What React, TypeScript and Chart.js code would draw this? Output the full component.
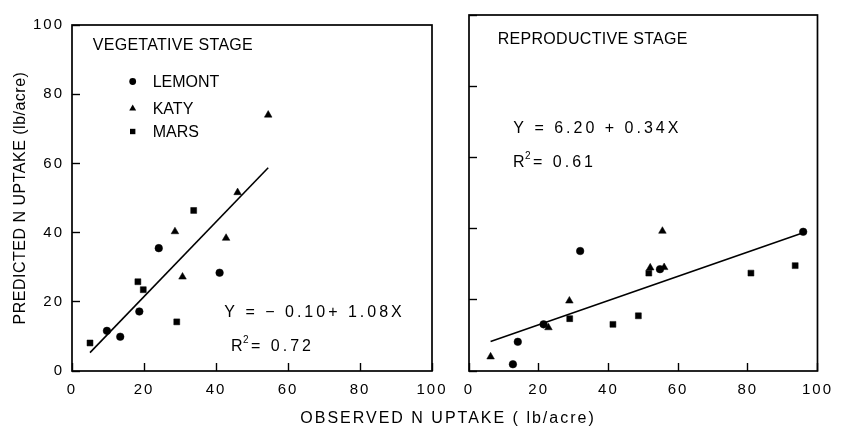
import { useEffect, useRef } from "react";
import { Chart, registerables } from "chart.js";

Chart.register(...registerables);

const FONT = "'Liberation Sans', Arial, Helvetica, sans-serif";
const INK = "#000000";

const TICK_VALUES = [0, 20, 40, 60, 80, 100];

const SERIES_NAMES = ["LEMONT", "KATY", "MARS"];
const SERIES_MARKERS = ["circle", "triangle", "rect"];
const MARKER_RADIUS: Record<string, number> = { circle: 3.8, triangle: 4.4, rect: 4.2 };

// Vegetative stage: observed (x) vs predicted (y) N uptake, lb/acre
const vegLemontX = [9.7, 13.4, 18.7, 24.1, 41.0];
const vegLemontY = [11.6, 9.9, 17.2, 35.5, 28.4];
const vegKatyX = [28.6, 30.7, 42.8, 46.0, 54.5];
const vegKatyY = [40.3, 27.2, 38.4, 51.6, 74.0];
const vegMarsX = [5.0, 18.3, 19.8, 29.1, 33.8];
const vegMarsY = [8.1, 25.8, 23.5, 14.2, 46.4];

// Reproductive stage
const repLemontX = [12.6, 14.0, 21.4, 31.9, 54.8, 95.9];
const repLemontY = [1.9, 8.2, 13.1, 33.7, 28.6, 39.1];
const repKatyX = [6.2, 22.8, 28.8, 52.0, 56.0, 55.5];
const repKatyY = [4.0, 12.2, 19.7, 29.0, 29.1, 39.3];
const repMarsX = [28.9, 41.3, 48.6, 51.6, 80.9, 93.6];
const repMarsY = [14.7, 13.1, 15.5, 27.5, 27.5, 29.6];

// Regression fits
const VEG_INTERCEPT = -0.1;
const VEG_SLOPE = 1.08;
const VEG_R2 = 0.72;
const REP_INTERCEPT = 6.2;
const REP_SLOPE = 0.34;
const REP_R2 = 0.61;

const pairs = (xs: number[], ys: number[]) => xs.map((x, i) => ({ x, y: ys[i] }));

function fitLine(xsList: number[][], a: number, b: number) {
  const all = xsList.flat();
  const lo = Math.min(...all);
  const hi = Math.max(...all);
  return [
    { x: lo, y: a + b * lo },
    { x: hi, y: a + b * hi },
  ];
}

function equationText(a: number, b: number) {
  return a < 0
    ? `Y = \u2212 ${Math.abs(a).toFixed(2)}+ ${b.toFixed(2)}X`
    : `Y = ${a.toFixed(2)} + ${b.toFixed(2)}X`;
}

function text(
  ctx: CanvasRenderingContext2D,
  s: string,
  x: number,
  y: number,
  size: number,
  spacing: number,
  align: CanvasTextAlign = "left"
) {
  ctx.save();
  ctx.font = `${size}px ${FONT}`;
  (ctx as any).letterSpacing = `${spacing}px`;
  ctx.fillStyle = INK;
  ctx.textAlign = align;
  ctx.textBaseline = "alphabetic";
  ctx.fillText(s, x, y);
  ctx.restore();
}

function drawMarker(ctx: CanvasRenderingContext2D, style: string, x: number, y: number, r: number) {
  ctx.save();
  ctx.fillStyle = INK;
  ctx.beginPath();
  if (style === "circle") {
    ctx.arc(x, y, r, 0, Math.PI * 2);
  } else if (style === "triangle") {
    ctx.moveTo(x, y - r);
    ctx.lineTo(x + r * 0.866, y + r / 2);
    ctx.lineTo(x - r * 0.866, y + r / 2);
    ctx.closePath();
  } else {
    const s = r * Math.SQRT1_2;
    ctx.rect(x - s, y - s, 2 * s, 2 * s);
  }
  ctx.fill();
  ctx.restore();
}

function drawRSquared(ctx: CanvasRenderingContext2D, r2: number, x: number, y: number) {
  text(ctx, "R", x, y, 16, 0);
  text(ctx, "2", x + 12, y - 7.5, 10, 0);
  text(ctx, `= ${r2.toFixed(2)}`, x + 20, y, 16, 3);
}

function axisOptions(horizontal: boolean, showLabels: boolean, size: number) {
  return {
    type: "linear",
    min: 0,
    max: 100,
    afterBuildTicks: (scale: any) => {
      scale.ticks = TICK_VALUES.map((value) => ({ value }));
    },
    ticks: {
      display: showLabels,
      autoSkip: false,
      maxRotation: 0,
      minRotation: 0,
      padding: horizontal ? 18 : 16,
      color: INK,
      font: { family: FONT, size: 15 },
    },
    grid: {
      display: true,
      drawOnChartArea: false,
      drawTicks: true,
      tickLength: -8,
      tickColor: INK,
      tickWidth: 1.4,
      color: INK,
    },
    border: { display: false },
    afterFit: (scale: any) => {
      if (horizontal) scale.height = size;
      else scale.width = size;
    },
  };
}

const framePlugin = {
  id: "frame",
  beforeDraw(chart: any) {
    chart.ctx.letterSpacing = "2px";
  },
  afterDraw(chart: any) {
    const { ctx, chartArea } = chart;
    ctx.save();
    ctx.strokeStyle = INK;
    ctx.lineWidth = 1.7;
    ctx.strokeRect(chartArea.left, chartArea.top, chartArea.right - chartArea.left, chartArea.bottom - chartArea.top);
    ctx.restore();
  },
};

type PanelSpec = {
  padLeft: number;
  padRight: number;
  yAxisWidth: number;
  showYLabels: boolean;
  series: { x: number[]; y: number[] }[];
  intercept: number;
  slope: number;
  notes: (ctx: CanvasRenderingContext2D, chart: any) => void;
};

function makeChart(canvas: HTMLCanvasElement, spec: PanelSpec) {
  const datasets: any[] = spec.series.map((s, i) => ({
    label: SERIES_NAMES[i],
    data: pairs(s.x, s.y),
    pointStyle: SERIES_MARKERS[i],
    pointRadius: MARKER_RADIUS[SERIES_MARKERS[i]],
    backgroundColor: INK,
    borderColor: INK,
    borderWidth: 0.5,
  }));
  datasets.push({
    label: "fit",
    data: fitLine(
      spec.series.map((s) => s.x),
      spec.intercept,
      spec.slope
    ),
    showLine: true,
    pointRadius: 0,
    borderColor: INK,
    borderWidth: 1.6,
    fill: false,
  });

  return new Chart(canvas, {
    type: "scatter",
    data: { datasets },
    options: {
      responsive: false,
      animation: false,
      events: [],
      layout: { padding: { left: spec.padLeft, right: spec.padRight, top: 15, bottom: 0 } },
      plugins: {
        legend: { display: false },
        tooltip: { enabled: false },
        title: { display: false },
      },
      scales: {
        x: axisOptions(true, true, 68) as any,
        y: axisOptions(false, spec.showYLabels, spec.yAxisWidth) as any,
      },
    },
    plugins: [
      framePlugin,
      {
        id: "notes",
        afterDraw(chart: any) {
          spec.notes(chart.ctx, chart);
        },
      },
    ],
  });
}

export default function App() {
  const leftRef = useRef<HTMLCanvasElement>(null);
  const rightRef = useRef<HTMLCanvasElement>(null);

  useEffect(() => {
    if (!leftRef.current || !rightRef.current) return;

    const left = makeChart(leftRef.current, {
      padLeft: 0,
      padRight: 416,
      yAxisWidth: 72,
      showYLabels: true,
      series: [
        { x: vegLemontX, y: vegLemontY },
        { x: vegKatyX, y: vegKatyY },
        { x: vegMarsX, y: vegMarsY },
      ],
      intercept: VEG_INTERCEPT,
      slope: VEG_SLOPE,
      notes: (ctx, chart) => {
        const { left: L, top: T, bottom: B } = chart.chartArea;
        text(ctx, "VEGETATIVE STAGE", L + 20.7, T + 25, 16, 0.3);
        const rows = [62, 89, 112];
        SERIES_NAMES.forEach((name, i) => {
          drawMarker(ctx, SERIES_MARKERS[i], L + 60.7, T + rows[i] - 5.5, MARKER_RADIUS[SERIES_MARKERS[i]] - 0.4);
          text(ctx, name, L + 80.7, T + rows[i], 16, 0);
        });
        text(ctx, equationText(VEG_INTERCEPT, VEG_SLOPE), L + 152.3, T + 291.7, 16, 3);
        drawRSquared(ctx, VEG_R2, L + 159, T + 325.7);

        // shared axis titles
        ctx.save();
        ctx.translate(19, (T + B) / 2);
        ctx.rotate(-Math.PI / 2);
        text(ctx, "PREDICTED N UPTAKE (lb/acre)", 0, 6, 16, 0.5, "center");
        ctx.restore();
        text(ctx, "OBSERVED N UPTAKE ( lb/acre)", 448, 423, 16, 2, "center");
      },
    });

    const right = makeChart(rightRef.current, {
      padLeft: 440,
      padRight: 23,
      yAxisWidth: 29,
      showYLabels: false,
      series: [
        { x: repLemontX, y: repLemontY },
        { x: repKatyX, y: repKatyY },
        { x: repMarsX, y: repMarsY },
      ],
      intercept: REP_INTERCEPT,
      slope: REP_SLOPE,
      notes: (ctx, chart) => {
        const { left: L, top: T } = chart.chartArea;
        text(ctx, "REPRODUCTIVE STAGE", L + 28.7, T + 29.3, 16, 0.3);
        text(ctx, equationText(REP_INTERCEPT, REP_SLOPE), L + 44.3, T + 118.3, 16, 3);
        drawRSquared(ctx, REP_R2, L + 44, T + 151.7);
      },
    });

    return () => {
      left.destroy();
      right.destroy();
    };
  }, []);

  return (
    <div style={{ position: "fixed", left: 0, top: 0, width: 848, height: 439, background: "#ffffff" }}>
      <canvas ref={leftRef} width={848} height={439} style={{ position: "absolute", left: 0, top: 0 }} />
      <canvas ref={rightRef} width={848} height={439} style={{ position: "absolute", left: 0, top: 0 }} />
    </div>
  );
}
